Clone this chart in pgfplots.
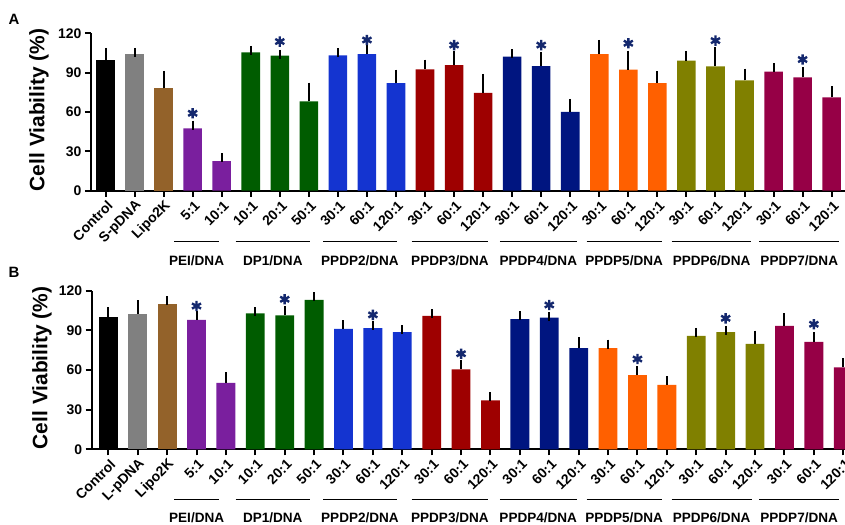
\documentclass[border=0pt]{standalone}
\usepackage{pgfplots}
\pgfplotsset{compat=1.18}
\usepackage{fontspec}
\setmainfont{Liberation Sans}
\definecolor{cgray}{HTML}{808080}
\definecolor{cbrown}{HTML}{93622A}
\definecolor{cpurple}{HTML}{7A1F9E}
\definecolor{cgreen}{HTML}{005C00}
\definecolor{cblue}{HTML}{1434D0}
\definecolor{cred}{HTML}{9E0000}
\definecolor{cnavy}{HTML}{001580}
\definecolor{corange}{HTML}{FF6000}
\definecolor{colive}{HTML}{808000}
\definecolor{ccrim}{HTML}{960046}
\definecolor{cstar}{HTML}{14286E}
\newcommand{\bars}[2]{\addplot[ybar,bar width=0.64,bar shift=0pt,fill=#1,draw=none,
  error bars/.cd, y dir=plus, y explicit,
  error bar style={line width=2bp,black},
  error mark options={line width=2bp,mark size=4.5bp,black}] coordinates {#2};}
\newcommand{\grp}[5]{\draw[line width=1.5bp] ([yshift=-#4bp]axis cs:#1,0) -- ([yshift=-#4bp]axis cs:#2,0);
  \node[font=\bfseries\fontsize{13.6}{14}\selectfont] at ([yshift=-#5bp]axis cs:{(#1+#2)/2},0) {#3};}
\pgfplotsset{panel/.style={
  scale only axis, anchor=south west,
  ymin=0, ymax=120, ytick={0,30,60,90,120},
  axis lines*=left, axis line style={line width=2bp},
  tick align=outside, major tick length=6bp,
  every tick/.style={line width=2bp,black},
  clip mode=individual,
  /pgf/number format/assume math mode=true,
  yticklabel style={font=\bfseries\fontsize{14}{14}\selectfont, xshift=0bp},
  xtick={0,...,25},
  xticklabel style={font=\bfseries\fontsize{14}{14}\selectfont, rotate=45, anchor=east, yshift=-8bp, xshift=2bp},
  ylabel={\bfseries Cell Viability (\%)},
  ylabel style={font=\fontsize{21}{21}\selectfont, at={(axis description cs:-0.069,0.513)}, anchor=center, rotate=0},
}}
\begin{document}
\begin{tikzpicture}[x=1bp,y=1bp]
\path[use as bounding box] (0,0) rectangle (845,525);
\node[font=\bfseries\fontsize{15}{15}\selectfont] at (14,506) {A};
\node[font=\bfseries\fontsize{15}{15}\selectfont] at (14,253) {B};
% ---------------- Panel A
\begin{axis}[panel, at={(91bp,334.3bp)}, width=754bp, height=157.4bp,
  xmin=-0.5, xmax=25.46,
  xticklabels={Control,S-pDNA,Lipo2K,5:1,10:1,10:1,20:1,50:1,30:1,60:1,120:1,30:1,60:1,120:1,30:1,60:1,120:1,30:1,60:1,120:1,30:1,60:1,120:1,30:1,60:1,120:1}]
\bars{black}{(0,100) +- (0,5.5)}
\bars{cgray}{(1,104) +- (0,1.5)}
\bars{cbrown}{(2,78) +- (0,10)}
\bars{cpurple}{(3,47.5) +- (0,2.5) (4,22.5) +- (0,2.8)}
\bars{cgreen}{(5,105.5) +- (0,1.5) (6,103) +- (0,1) (7,68) +- (0,11)}
\bars{cblue}{(8,103.2) +- (0,2) (9,104.2) +- (0,3.6) (10,82) +- (0,6.8)}
\bars{cred}{(11,92.5) +- (0,4) (12,95.8) +- (0,7.2) (13,74.5) +- (0,11.2)}
\bars{cnavy}{(14,102.2) +- (0,2.3) (15,95) +- (0,7.2) (16,60) +- (0,6.6)}
\bars{corange}{(17,104.2) +- (0,7.4) (18,92.3) +- (0,11) (19,82) +- (0,5.5)}
\bars{colive}{(20,99.1) +- (0,4.1) (21,94.8) +- (0,11.2) (22,84.1) +- (0,5.6)}
\bars{ccrim}{(23,90.7) +- (0,3.1) (24,86.4) +- (0,4.3) (25,71.2) +- (0,5.1)}
\addplot[only marks, mark=asterisk, mark size=5.2bp, line width=2.4bp, cstar]
  coordinates {(3,59) (6,113.7) (9,114.9) (12,111) (15,111) (18,112.4) (21,114.4) (24,100)};
\grp{2.36}{3.91}{PEI/DNA}{51}{70}
\grp{4.48}{7.04}{DP1/DNA}{51}{70}
\grp{7.50}{10.02}{PPDP2/DNA}{51}{70}
\grp{10.54}{13.18}{PPDP3/DNA}{51}{70}
\grp{13.58}{16.22}{PPDP4/DNA}{51}{70}
\grp{16.56}{19.15}{PPDP5/DNA}{51}{70}
\grp{19.49}{22.24}{PPDP6/DNA}{51}{70}
\grp{22.51}{25.26}{PPDP7/DNA}{51}{70}
\end{axis}
% ---------------- Panel B
\begin{axis}[panel, at={(91.7bp,75.7bp)}, width=753.3bp, height=158.6bp,
  xmin=-0.565, xmax=25.06,
  ylabel style={at={(axis description cs:-0.066,0.513)}},
  xticklabels={Control,L-pDNA,Lipo2K,5:1,10:1,10:1,20:1,50:1,30:1,60:1,120:1,30:1,60:1,120:1,30:1,60:1,120:1,30:1,60:1,120:1,30:1,60:1,120:1,30:1,60:1,120:1}]
\bars{black}{(0,100) +- (0,4)}
\bars{cgray}{(1,102.4) +- (0,7)}
\bars{cbrown}{(2,110) +- (0,2.4)}
\bars{cpurple}{(3,98) +- (0,3) (4,50.2) +- (0,4.5)}
\bars{cgreen}{(5,102.9) +- (0,1) (6,101.4) +- (0,3.8) (7,113) +- (0,2.5)}
\bars{cblue}{(8,91.1) +- (0,3) (9,91.6) +- (0,1.8) (10,88.6) +- (0,2)}
\bars{cred}{(11,100.9) +- (0,1.5) (12,60.5) +- (0,4) (13,37.1) +- (0,2.6)}
\bars{cnavy}{(14,98.4) +- (0,2.5) (15,99.6) +- (0,0.8) (16,76.6) +- (0,4.7)}
\bars{corange}{(17,76.6) +- (0,3) (18,56.2) +- (0,3.3) (19,48.7) +- (0,3)}
\bars{colive}{(20,85.8) +- (0,2.6) (21,88.6) +- (0,1.3) (22,79.8) +- (0,6.5)}
\bars{ccrim}{(23,93.4) +- (0,6.2) (24,81.3) +- (0,4) (25,62) +- (0,3.5)}
\addplot[only marks, mark=asterisk, mark size=5.2bp, line width=2.4bp, cstar]
  coordinates {(3,108.4) (6,113.5) (9,101.7) (12,72.3) (15,109.2) (18,68.3) (21,99.1) (24,94.6)};
\grp{2.24}{3.77}{PEI/DNA}{50}{68}
\grp{4.33}{6.86}{DP1/DNA}{50}{68}
\grp{7.31}{9.81}{PPDP2/DNA}{50}{68}
\grp{10.32}{12.92}{PPDP3/DNA}{50}{68}
\grp{13.32}{15.93}{PPDP4/DNA}{50}{68}
\grp{16.27}{18.82}{PPDP5/DNA}{50}{68}
\grp{19.16}{21.88}{PPDP6/DNA}{50}{68}
\grp{22.14}{24.86}{PPDP7/DNA}{50}{68}
\end{axis}
\end{tikzpicture}
\end{document}
